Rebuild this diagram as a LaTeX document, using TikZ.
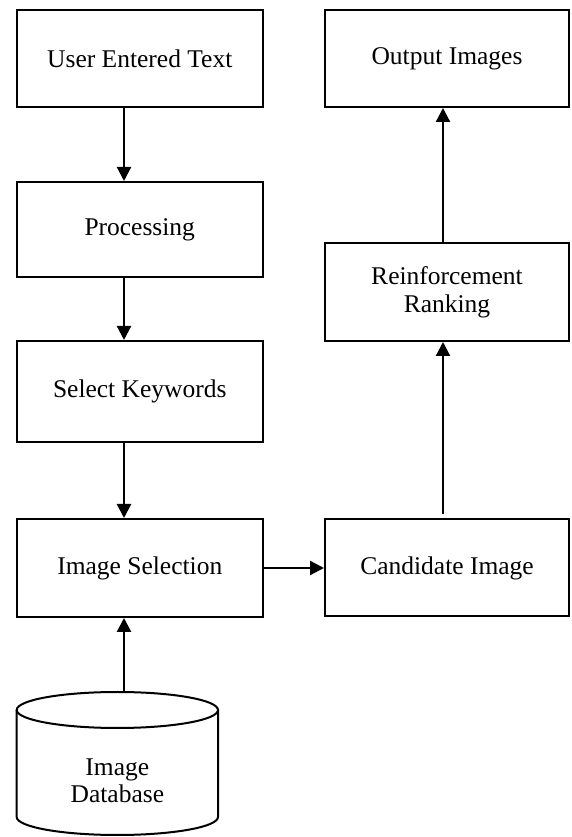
\documentclass[tikz,border=0pt]{standalone}
\usepackage{fontspec}
\setmainfont{Liberation Serif}
\usetikzlibrary{arrows.meta}
\begin{document}
\begin{tikzpicture}[x=1pt,y=1pt,
  box/.style={draw, line width=2pt, inner sep=0pt, align=center, font=\fontsize{25.5}{28}\selectfont},
  lbox/.style={box, minimum width=246.5pt},
  rbox/.style={box, minimum width=244pt},
  flow/.style={line width=2.2pt, -{Triangle[width=14pt,length=14pt]}},
  dbline/.style={line width=2pt}]
\useasboundingbox (0,0) rectangle (571,837);
% left column
\node[lbox, minimum height=97pt]  (user) at (139.75,778.5) {User Entered Text};
\node[lbox, minimum height=95pt]  (proc) at (139.75,607.5) {Processing};
\node[lbox, minimum height=101pt] (sel)  at (139.75,445.5) {Select Keywords};
\node[lbox, minimum height=98pt]  (isel) at (139.75,269)   {Image Selection};
% right column
\node[rbox, minimum height=97pt]  (out)  at (447,778.5) {Output Images};
\node[rbox, minimum height=98pt]  (rein) at (447,545)   {Reinforcement\\Ranking};
\node[rbox, minimum height=97pt]  (cand) at (447,269)   {Candidate Image};
% database cylinder
\draw[dbline] (117.35,127) ellipse [x radius=100.65pt, y radius=18pt];
\draw[dbline] (16.7,127) -- (16.7,20) arc[start angle=180, end angle=360, x radius=100.65pt, y radius=18pt] -- (218,127);
\node[font=\fontsize{25.5}{27}\selectfont, align=center, inner sep=0pt] (db) at (117.35,56) {Image\\Database};
\coordinate (dbtop) at (124,145);
% arrow columns
\coordinate (colx) at (124,0);
\coordinate (colr) at (443,0);
% connectors
\draw[flow] (user.south -| colx) -- (proc.north -| colx);
\draw[flow] (proc.south -| colx) -- (sel.north -| colx);
\draw[flow] (sel.south -| colx) -- (isel.north -| colx);
\draw[flow] (dbtop) -- (isel.south -| colx);
\draw[flow] (isel.east) -- (isel.east -| cand.west);
\draw[flow, shorten <=4pt] (cand.north -| colr) -- (rein.south -| colr);
\draw[flow] (rein.north -| colr) -- (out.south -| colr);
\end{tikzpicture}
\end{document}
